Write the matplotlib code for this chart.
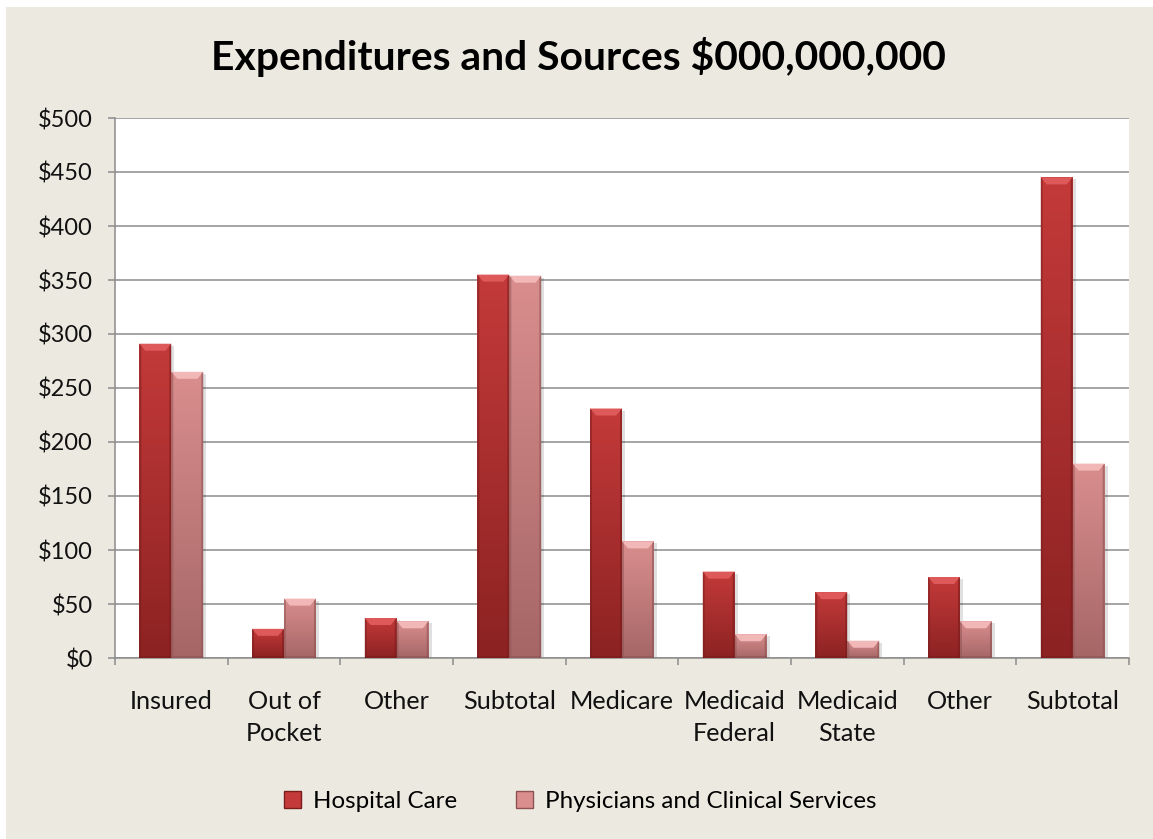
import numpy as np
import matplotlib.pyplot as plt
from matplotlib.patches import Rectangle, Polygon
from matplotlib.colors import LinearSegmentedColormap
from matplotlib.ticker import FuncFormatter, MultipleLocator, FixedLocator

plt.rcParams['font.family'] = ['Lato', 'DejaVu Sans']

categories = ['Insured', 'Out of\nPocket', 'Other', 'Subtotal', 'Medicare',
              'Medicaid\nFederal', 'Medicaid\nState', 'Other', 'Subtotal']
hospital = [291, 27, 37, 355, 231, 80, 61, 75, 445]
physicians = [265, 55, 34, 354, 108, 22, 16, 34, 180]
series_names = ['Hospital Care', 'Physicians and Clinical Services']

BG = '#ECEAE0'
GRID = '#8C8C8C'

# colours: (top, bottom, bevel light, bevel dark)
styles = [
    ('#C43A3A', '#8C2222', '#DE5A5A', '#7A1C1C'),
    ('#DA8E8E', '#A66666', '#F2B8B8', '#8E5252'),
]

fig = plt.figure(figsize=(11.53, 8.39), dpi=100)
fig.patch.set_facecolor('white')
fig.patches.append(Rectangle((6 / 1153, 0), 1 - 6 / 1153, 1 - 7 / 839,
                             transform=fig.transFigure, facecolor=BG,
                             edgecolor='none', zorder=-10))

ax = fig.add_axes([115 / 1153, 1 - 658 / 839, 1014 / 1153, 540 / 839])
ax.set_facecolor('white')

n = len(categories)
x = np.arange(n)
w = 0.284
ax.set_xlim(-0.5, n - 0.5)
ax.set_ylim(0, 500)

# pixel -> data conversions for the bevel and shadow sizes
px_x = n / 1014
px_y = 500 / 540


def bevel_bar(x0, h, colors):
    top, bot, light, dark = colors
    x1 = x0 + w
    # soft drop shadow
    ax.add_patch(Rectangle((x0 + 3 * px_x, -2 * px_y), w, h, facecolor='black',
                           alpha=0.12, edgecolor='none', zorder=2))
    body = Rectangle((x0, 0), w, h, facecolor='none', edgecolor='none', zorder=3)
    ax.add_patch(body)
    cmap = LinearSegmentedColormap.from_list('g', [bot, top])
    grad = np.linspace(0, 1, 256).reshape(-1, 1)
    im = ax.imshow(grad, extent=[x0, x1, 0, h], origin='lower', aspect='auto',
                   cmap=cmap, zorder=3, interpolation='bilinear')
    im.set_clip_path(body)
    bx, by = 6 * px_x, min(7 * px_y, h / 2)
    ax.add_patch(Polygon([(x0, h), (x1, h), (x1 - bx, h - by), (x0 + bx, h - by)],
                         closed=True, facecolor=light, edgecolor='none', zorder=4))
    ax.add_patch(Polygon([(x0, 0), (x0, h), (x0 + 2 * px_x, h - 2 * px_y), (x0 + 2 * px_x, 0)],
                         closed=True, facecolor=dark, alpha=0.5, edgecolor='none', zorder=4))
    ax.add_patch(Polygon([(x1, 0), (x1, h), (x1 - 2 * px_x, h - 2 * px_y), (x1 - 2 * px_x, 0)],
                         closed=True, facecolor=dark, alpha=0.6, edgecolor='none', zorder=4))
    ax.add_patch(Rectangle((x0, 0), w, 2 * px_y, facecolor=dark, alpha=0.6,
                           edgecolor='none', zorder=4))


for i in range(n):
    bevel_bar(x[i] - w, hospital[i], styles[0])
    bevel_bar(x[i], physicians[i], styles[1])

ax.yaxis.set_major_locator(MultipleLocator(50))
ax.yaxis.set_major_formatter(FuncFormatter(lambda v, p: f'${v:.0f}'))
ax.grid(axis='y', color=GRID, linewidth=1.1, zorder=1)
ax.set_axisbelow(True)

ax.set_xticks(x)
ax.set_xticklabels(categories, linespacing=1.5)
ax.xaxis.set_minor_locator(FixedLocator(np.arange(-0.5, n, 1.0)))
ax.tick_params(axis='x', which='major', length=0, pad=23, labelsize=18.2, colors='#111111')
ax.tick_params(axis='x', which='minor', length=5, width=1.1, color=GRID, direction='out')
ax.tick_params(axis='y', length=5, width=1.1, color=GRID, pad=11, labelsize=17,
               labelcolor='#111111')

for s in ['top', 'right']:
    ax.spines[s].set_visible(False)
for s in ['left', 'bottom']:
    ax.spines[s].set_color(GRID)
    ax.spines[s].set_linewidth(1.1)

fig.text(578 / 1153, 1 - 57 / 839, 'Expenditures and Sources $000,000,000',
         ha='center', va='center', fontsize=29.4, fontweight='bold', color='black')

handles = [Rectangle((0, 0), 1, 1, facecolor=styles[0][0], edgecolor=styles[0][3]),
           Rectangle((0, 0), 1, 1, facecolor=styles[1][0], edgecolor=styles[1][3])]
fig.legend(handles, series_names, loc='center', bbox_to_anchor=(580 / 1153, 1 - 801 / 839),
           ncol=2, frameon=False, fontsize=17.4, handlelength=0.7, handleheight=0.7,
           handletextpad=0.5, columnspacing=2.45)

fig.savefig('out.png', dpi=100, facecolor=fig.get_facecolor())
